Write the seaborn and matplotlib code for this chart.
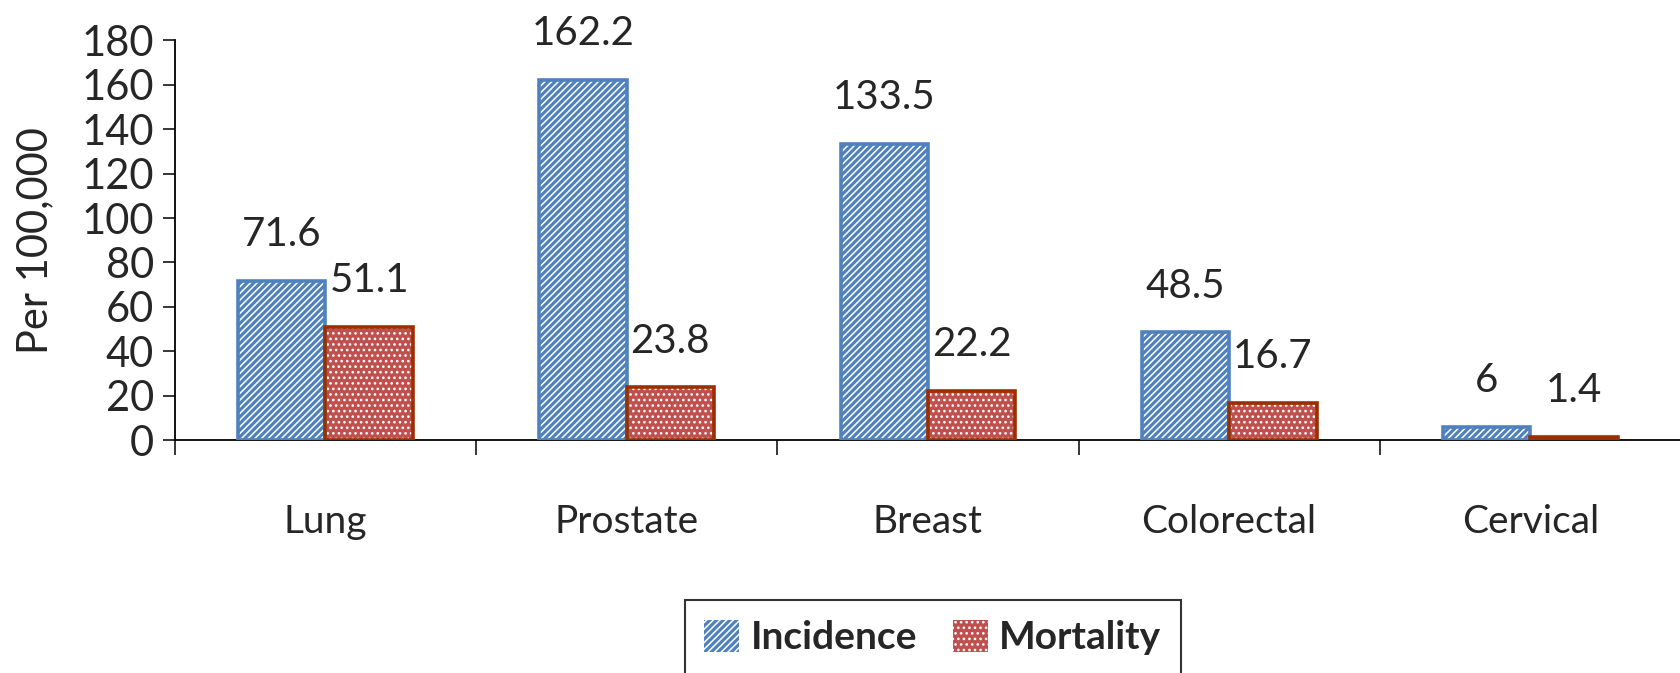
import pandas as pd
import matplotlib
matplotlib.use("Agg")
import matplotlib.pyplot as plt
import seaborn as sns
from matplotlib.patches import Patch, Rectangle

# =====================================================
# DATA
# =====================================================

sites = ["Lung", "Prostate", "Breast", "Colorectal", "Cervical"]
incidence = [71.6, 162.2, 133.5, 48.5, 6]
mortality = [51.1, 23.8, 22.2, 16.7, 1.4]
measures = ["Incidence", "Mortality"]
y_ticks = [0, 20, 40, 60, 80, 100, 120, 140, 160, 180]

df = pd.DataFrame({
    "Site": sites * 2,
    "Measure": ["Incidence"] * len(sites) + ["Mortality"] * len(sites),
    "Value": incidence + mortality,
})

# =====================================================
# STYLE
# =====================================================

sns.set_style("white")
plt.rcParams["font.family"] = ["Lato", "DejaVu Sans"]
plt.rcParams["hatch.linewidth"] = 1.1

blue = "#4F81BD"
red_face = "#C0504D"
red_edge = "#9C2F00"
hatches = {"Incidence": "/////", "Mortality": "..."}
faces = {"Incidence": blue, "Mortality": red_face}
edges = {"Incidence": blue, "Mortality": red_edge}

# =====================================================
# PLOT
# =====================================================

fig = plt.figure(figsize=(16.81, 6.73), dpi=100)
ax = fig.add_axes([0.104, 0.346, 0.896, 0.594])

sns.barplot(
    data=df,
    x="Site",
    y="Value",
    hue="Measure",
    hue_order=measures,
    palette=faces,
    width=0.58,
    legend=False,
    ax=ax,
)

for measure, container in zip(measures, ax.containers):
    for bar in container:
        bar.set_facecolor(faces[measure])
        bar.set_edgecolor("white")
        bar.set_hatch(hatches[measure])
        bar.set_linewidth(0)
        ax.add_patch(
            Rectangle(
                bar.get_xy(), bar.get_width(), bar.get_height(),
                fill=False, edgecolor=edges[measure], linewidth=2.6, zorder=3
            )
        )
    ax.bar_label(
        container,
        labels=[f"{v:g}" for v in container.datavalues],
        padding=20,
        fontsize=29,
    )

ax.set_ylim(0, 180)
ax.set_xlim(-0.5, len(sites) - 0.5)
ax.set_yticks(y_ticks)
ax.tick_params(axis="y", labelsize=30, length=9, width=1.3, direction="out", left=True, pad=6)

# category ticks between groups
ax.set_xticks(range(len(sites)))
ax.set_xticklabels(sites)
ax.set_xticks([i - 0.5 for i in range(len(sites) + 1)], minor=True)
ax.tick_params(axis="x", which="major", length=0, labelsize=28, pad=46)
ax.tick_params(axis="x", which="minor", length=11, width=1.3, direction="out", bottom=True)

ax.set_xlabel("")
ax.set_ylabel("Per 100,000", fontsize=30, labelpad=20)

for side in ["top", "right"]:
    ax.spines[side].set_visible(False)
for side in ["left", "bottom"]:
    ax.spines[side].set_color("black")
    ax.spines[side].set_linewidth(1.3)

handles = [
    Patch(facecolor=faces[m], edgecolor="white", hatch=hatches[m], label=m)
    for m in measures
]
leg = fig.legend(
    handles=handles,
    loc="upper center",
    bbox_to_anchor=(0.555, 0.108),
    borderaxespad=0,
    ncol=2,
    fancybox=False,
    edgecolor="black",
    prop={"size": 28, "weight": "bold"},
    handlelength=0.9,
    handleheight=0.9,
    handletextpad=0.3,
    columnspacing=0.9,
    borderpad=0.5,
)
leg.get_frame().set_linewidth(1.5)
for h, m in zip(leg.legend_handles, measures):
    h.set_edgecolor("white")
    h.set_linewidth(0)

fig.savefig("out.png", dpi=100)
